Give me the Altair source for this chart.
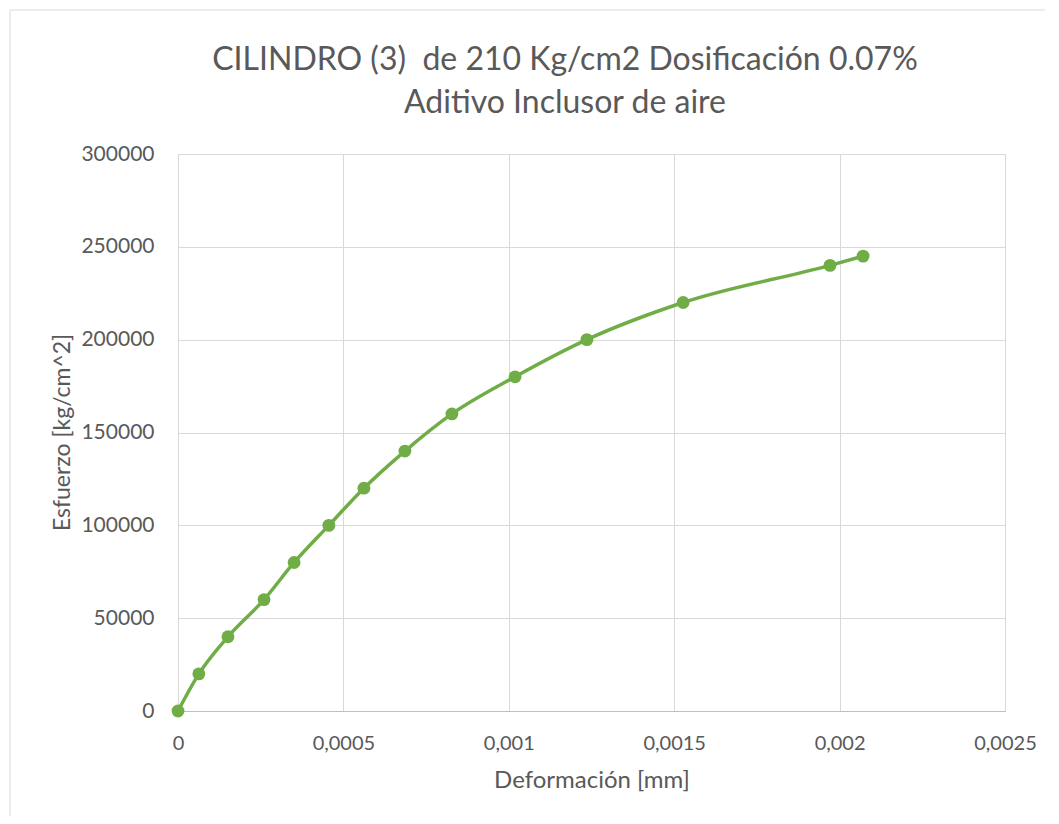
import altair as alt
import pandas as pd

deformacion = [0, 0.000063, 0.000151, 0.00026, 0.000351, 0.000456, 0.000562,
               0.000686, 0.000828, 0.001019, 0.001236, 0.001527, 0.001971, 0.002071]
esfuerzo = [0, 20000, 40000, 60000, 80000, 100000, 120000,
            140000, 160000, 180000, 200000, 220000, 240000, 245000]

x_ticks = [0, 0.0005, 0.001, 0.0015, 0.002, 0.0025]
y_ticks = [0, 50000, 100000, 150000, 200000, 250000, 300000]

title_lines = ["CILINDRO (3)\u00a0 de 210 Kg/cm2 Dosificación 0.07%", "Aditivo Inclusor de aire"]
x_title = "Deformación [mm]"
y_title = "Esfuerzo [kg/cm^2]"

df = pd.DataFrame({"x": deformacion, "y": esfuerzo})

FONT = "Lato"
GREY = "#595959"
GREEN = "#70AD47"

W, H = 827, 557

xs = alt.X("x:Q", scale=alt.Scale(domain=[0, 0.0025], nice=False),
           axis=alt.Axis(values=x_ticks, title=x_title,
                         labelExpr="replace(toString(datum.value), '.', ',')",
                         grid=True, gridColor="#D9D9D9", ticks=False, labelFlush=False,
                         domainColor="#BFBFBF", labelPadding=22,
                         labelFontSize=20, labelColor=GREY, labelFont=FONT,
                         titleFontSize=24, titleColor=GREY, titleFont=FONT,
                         titleFontWeight="normal", titleY=69, titleBaseline="middle"))
ys = alt.Y("y:Q", scale=alt.Scale(domain=[0, 300000], nice=False),
           axis=alt.Axis(values=y_ticks, title=y_title, format="d",
                         grid=True, gridColor="#D9D9D9", ticks=False,
                         domain=False, labelPadding=24,
                         labelFontSize=21, labelColor=GREY, labelFont=FONT,
                         titleFontSize=23, titleColor=GREY, titleFont=FONT,
                         titleFontWeight="normal", titleX=-116, titleY=278,
                         titleBaseline="middle", titleAngle=-90))

frame = alt.Chart(pd.DataFrame({"a": [0]})).mark_rect(
    fill=None, stroke="#D9D9D9", strokeWidth=1
).encode(x=alt.value(-168), x2=alt.value(872), y=alt.value(-144), y2=alt.value(668))

title = alt.Chart(pd.DataFrame({"t": ["\n".join(title_lines)]})).mark_text(
    font=FONT, fontSize=32, color=GREY, align="center", baseline="middle",
    lineBreak="\n", lineHeight=43
).encode(text="t:N", x=alt.value(387), y=alt.value(-94))

line = alt.Chart(df).mark_line(color=GREEN, strokeWidth=3.5, interpolate="monotone").encode(x=xs, y=ys)
pts = alt.Chart(df).mark_circle(color=GREEN, size=165, opacity=1).encode(x="x:Q", y="y:Q")

chart = alt.layer(frame, title, line, pts).properties(
    width=W, height=H,
    autosize=alt.AutoSizeParams(type="none"),
    padding={"left": 170, "top": 146, "right": 40, "bottom": 105},
).configure_view(stroke="#D9D9D9", strokeWidth=1).configure(background="white")

chart.save("out.html", embed_options={"renderer": "svg", "actions": False})
